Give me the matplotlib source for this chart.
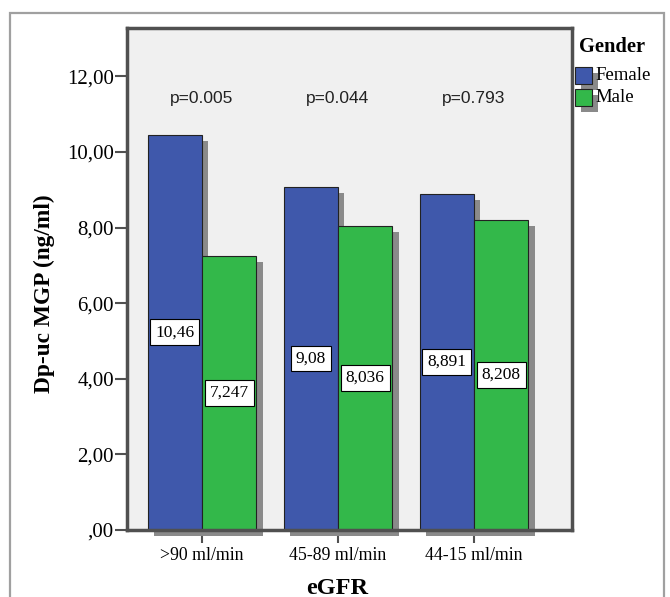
import matplotlib
matplotlib.use("Agg")
import matplotlib.pyplot as plt
import matplotlib.patheffects as pe
from matplotlib.patches import Rectangle
import numpy as np

categories = [">90 ml/min", "45-89 ml/min", "44-15 ml/min"]
female = [10.46, 9.08, 8.891]
male = [7.247, 8.036, 8.208]
female_labels = ["10,46", "9,08", "8,891"]
male_labels = ["7,247", "8,036", "8,208"]
p_values = ["p=0.005", "p=0.044", "p=0.793"]
yticks = [0, 2, 4, 6, 8, 10, 12]
ytick_labels = [",00", "2,00", "4,00", "6,00", "8,00", "10,00", "12,00"]

BLUE = "#3f58ab"
GREEN = "#33b84a"
SHADOW = "#8a8a8a"
SERIF = "Liberation Serif"
SANS = "Liberation Sans"

fig = plt.figure(figsize=(6.7, 5.97), dpi=100)
fig.patch.set_facecolor("white")

# outer frame
fig.patches.append(Rectangle((10 / 670, -0.01), 654 / 670, (597 - 13) / 597 + 0.01,
                             transform=fig.transFigure, fill=False,
                             edgecolor="#a0a0a0", linewidth=1.6))

ax = fig.add_axes([127 / 670, 67 / 597, 445 / 670, 502 / 597])
ax.set_facecolor("#f0f0f0")

x = np.arange(len(categories))
w = 0.4
shadow = [pe.SimplePatchShadow(offset=(4.5, -4.5), shadow_rgbFace=SHADOW, alpha=1), pe.Normal()]

bf = ax.bar(x - w / 2, female, w, color=BLUE, edgecolor="#222222", linewidth=0.8, zorder=3)
bm = ax.bar(x + w / 2, male, w, color=GREEN, edgecolor="#222222", linewidth=0.8, zorder=3)
for b in list(bf) + list(bm):
    b.set_path_effects(shadow)
    b.set_clip_on(False)

for i in range(len(categories)):
    ax.text(x[i] - w / 2, female[i] / 2, female_labels[i], ha="center", va="center",
            fontsize=12.5, family=SERIF, zorder=4,
            bbox=dict(boxstyle="square,pad=0.28", facecolor="white", edgecolor="black", linewidth=0.8))
    ax.text(x[i] + w / 2, male[i] / 2, male_labels[i], ha="center", va="center",
            fontsize=12.5, family=SERIF, zorder=4,
            bbox=dict(boxstyle="square,pad=0.28", facecolor="white", edgecolor="black", linewidth=0.8))
    ax.text(x[i], 11.42, p_values[i], ha="center", va="center", fontsize=12.5, family=SANS,
            color="#222222")

ax.set_xlim(-0.551, 2.72)
ax.set_ylim(0, 13.28)
ax.set_yticks(yticks)
ax.set_yticklabels(ytick_labels, family=SERIF, fontsize=15)
ax.set_xticks(x)
ax.set_xticklabels(categories, family=SERIF, fontsize=12.8)
ax.tick_params(axis="y", length=8.5, width=1.5, color="#505050", pad=1)
ax.tick_params(axis="x", length=9, width=1.5, color="#505050", pad=3)

for s in ax.spines.values():
    s.set_color("#505050")
    s.set_linewidth(2.5)
    s.set_zorder(5)

fig.text(44 / 670, 1 - 294 / 597, "Dp-uc MGP (ng/ml)", family=SERIF, fontsize=16.8,
         fontweight="bold", rotation=90, ha="center", va="center")
fig.text(337 / 670, 1 - 588 / 597, "eGFR", family=SERIF, fontsize=17.5,
         fontweight="bold", ha="center", va="center")

# legend
fig.text(612 / 670, 1 - 47 / 597, "Gender", family=SERIF, fontsize=14.8, fontweight="bold",
         ha="center", va="center")
for j, (lab, col) in enumerate([("Female", BLUE), ("Male", GREEN)]):
    ytop = 67 + j * 22
    r = Rectangle((575 / 670, 1 - (ytop + 17) / 597), 17 / 670, 17 / 597,
                  transform=fig.transFigure, facecolor=col, edgecolor="#222222", linewidth=0.8)
    r.set_path_effects(shadow)
    fig.patches.append(r)
    fig.text(595 / 670, 1 - (ytop + 9) / 597, lab, family=SERIF, fontsize=13.5,
             ha="left", va="center")

fig.savefig("out.png", dpi=100)
